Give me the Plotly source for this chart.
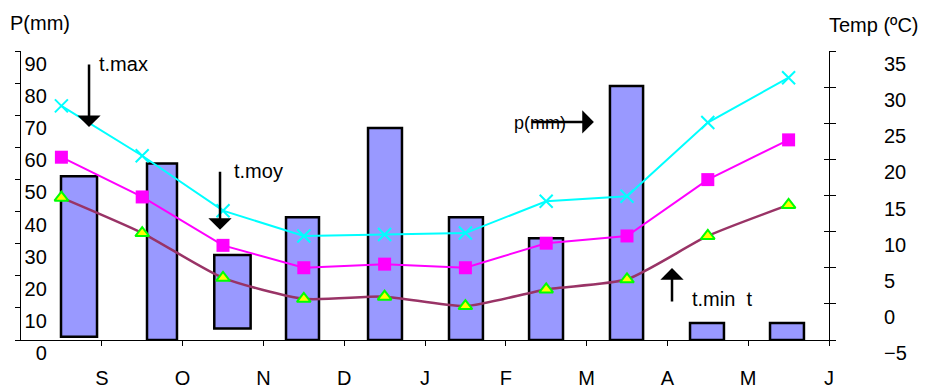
import plotly.graph_objects as go

# ---- data ----
months = ["S", "O", "N", "D", "J", "F", "M", "A", "M", "J"]
precip_top = [51, 55, 26.5, 38.2, 66, 38.2, 31.7, 79.1, 5.3, 5.3]
precip_base = [1, 0, 3.6, 0, 0, 0, 0, 0, 0, 0]
t_max = [27.4, 20.5, 12.9, 9.4, 9.6, 9.8, 14.2, 14.9, 25.1, 31.3]
t_moy = [20.3, 14.8, 8.1, 5.0, 5.5, 5.0, 8.4, 9.4, 17.2, 22.7]
t_min = [14.7, 9.8, 3.6, 0.7, 1.0, -0.3, 2.0, 3.4, 9.4, 13.7]
p_ticks = list(range(0, 100, 10))
t_ticks = list(range(-5, 40, 5))

# ---- layout helpers (positions, not data) ----
bar_x = [0.718, 1.745, 2.617, 3.484, 4.505, 5.507, 6.498, 7.494, 8.49, 9.48]
bar_w = [0.446, 0.371, 0.45, 0.408, 0.42, 0.42, 0.42, 0.41, 0.42, 0.42]
pt_x = [i + 0.5 for i in range(len(months))]
tick_x = [i + 1 for i in range(len(months))]
heights = [t - b for t, b in zip(precip_top, precip_base)]

FONT = "Liberation Sans, Arial, sans-serif"

fig = go.Figure()
fig.add_trace(go.Bar(x=bar_x, y=heights, base=precip_base, width=bar_w,
                     marker=dict(color="#9999FF", line=dict(color="black", width=2.5)),
                     yaxis="y", showlegend=False, hoverinfo="skip"))
fig.add_trace(go.Scatter(x=pt_x, y=t_max, mode="lines+markers", yaxis="y2",
                         line=dict(color="#00FFFF", width=2),
                         marker=dict(symbol="x-thin-open", size=13,
                                     line=dict(color="#00FFFF", width=2)),
                         showlegend=False))
fig.add_trace(go.Scatter(x=pt_x, y=t_moy, mode="lines+markers", yaxis="y2",
                         line=dict(color="#FF00FF", width=2),
                         marker=dict(symbol="square", size=13, color="#FF00FF"),
                         showlegend=False))
fig.add_trace(go.Scatter(x=pt_x, y=t_min, mode="lines+markers", yaxis="y2",
                         line=dict(color="#993366", width=2.5, shape="spline", smoothing=0.6),
                         marker=dict(symbol="triangle-up", size=12, color="#FFFF00",
                                     line=dict(color="#00FF00", width=2)),
                         showlegend=False))
# dummy traces so the label/tick helper axes get drawn
fig.add_trace(go.Scatter(x=[], y=[], yaxis="y3", showlegend=False))
fig.add_trace(go.Scatter(x=[], y=[], yaxis="y4", showlegend=False))

tickfont = dict(family=FONT, size=20, color="black")

fig.update_layout(
    width=926, height=388,
    margin=dict(l=21, r=97, t=51, b=48),
    paper_bgcolor="white", plot_bgcolor="white",
    xaxis=dict(range=[0, 10], tickvals=tick_x, ticktext=months, ticks="outside",
               ticklen=5, tickcolor="black", showline=True, linecolor="black",
               linewidth=1, showgrid=False, zeroline=False, tickfont=tickfont,
               ticklabelstandoff=15, automargin=False),
    yaxis=dict(range=[0, 90], tickvals=p_ticks, ticks="outside", ticklen=5,
               tickcolor="black", showline=True, linecolor="black", linewidth=1,
               showgrid=False, zeroline=False, showticklabels=False,
               automargin=False),
    yaxis3=dict(range=[0, 90], tickvals=p_ticks, overlaying="y", anchor="free",
                position=0.032, side="left", ticks="", showline=False,
                showgrid=False, zeroline=False, tickfont=tickfont,
                ticklabelshift=13, automargin=False),
    yaxis2=dict(range=[-5, 35], tickvals=t_ticks, overlaying="y", side="right",
                anchor="x", ticks="outside", ticklen=6, tickcolor="black",
                showline=True, linecolor="black", linewidth=1, showgrid=False,
                zeroline=False, tickfont=tickfont, ticklabelshift=13,
                ticklabelstandoff=44, automargin=False),
    yaxis4=dict(range=[-5, 35], tickvals=t_ticks, overlaying="y", side="right",
                anchor="x", ticks="inside", ticklen=5, tickcolor="black",
                showline=False, showgrid=False, zeroline=False,
                showticklabels=False, automargin=False),
)

ann_font = dict(family=FONT, size=20, color="black")
# axis titles
fig.add_annotation(text="P(mm)", xref="paper", yref="paper", x=-0.016, y=1.097,
                   xanchor="left", yanchor="middle", showarrow=False, font=ann_font)
fig.add_annotation(text="Temp (ºC)", xref="paper", yref="paper", x=0.9975, y=1.09,
                   xanchor="left", yanchor="middle", showarrow=False, font=ann_font)
# labels
labels = [("t.max", 0.94, 86.0, 20), ("t.moy", 2.61, 52.6, 20),
          ("p(mm)", 6.077, 67.6, 18), ("t.min  t", 8.28, 12.8, 20)]
for txt, lx, ly, fs in labels:
    fig.add_annotation(text=txt, x=lx, y=ly, xref="x", yref="y", xanchor="left",
                       yanchor="middle", showarrow=False,
                       font=dict(family=FONT, size=fs, color="black"))
# arrows (tail -> tip)
arrows = [((0.842, 86.3), (0.842, 66.3)),
          ((2.463, 52.9), (2.463, 34.3)),
          ((6.30, 67.9), (7.09, 67.9)),
          ((8.057, 11.5), (8.057, 22.4))]
for (tx, ty), (hx, hy) in arrows:
    fig.add_annotation(text="", x=hx, y=hy, ax=tx, ay=ty, xref="x", yref="y",
                       axref="x", ayref="y", showarrow=True, arrowhead=1,
                       arrowwidth=2.5, arrowsize=1.55, arrowcolor="black")

fig.write_html("out.html", config={"displayModeBar": False},
               post_script="document.body.style.margin='0';")
